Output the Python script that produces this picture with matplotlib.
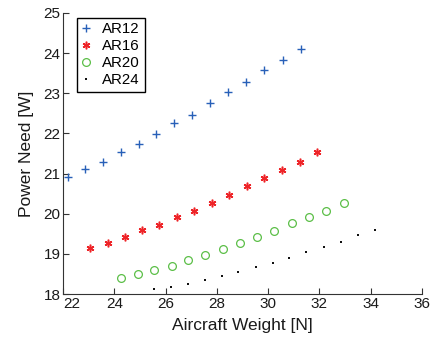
import matplotlib
matplotlib.use("Agg")
import matplotlib.pyplot as plt

plt.rcParams['font.family'] = ['Liberation Sans', 'DejaVu Sans']

# aircraft weight [N] and power need [W] for each aspect ratio
w_ar12 = [22.17, 22.87, 23.55, 24.25, 24.95, 25.63, 26.34, 27.03, 27.73, 28.45, 29.15, 29.85, 30.57, 31.27]
p_ar12 = [20.91, 21.12, 21.29, 21.54, 21.74, 21.98, 22.25, 22.47, 22.76, 23.02, 23.28, 23.57, 23.84, 24.11]

w_ar16 = [23.05, 23.73, 24.40, 25.07, 25.75, 26.43, 27.11, 27.80, 28.47, 29.16, 29.85, 30.54, 31.23, 31.92]
p_ar16 = [19.14, 19.27, 19.42, 19.59, 19.73, 19.91, 20.08, 20.28, 20.46, 20.68, 20.89, 21.09, 21.29, 21.53]

w_ar20 = [24.25, 24.92, 25.55, 26.23, 26.88, 27.55, 28.23, 28.90, 29.58, 30.24, 30.92, 31.60, 32.27, 32.95]
p_ar20 = [18.41, 18.50, 18.59, 18.70, 18.85, 18.97, 19.12, 19.27, 19.42, 19.58, 19.76, 19.91, 20.07, 20.26]

w_ar24 = [25.55, 26.21, 26.87, 27.54, 28.19, 28.84, 29.52, 30.18, 30.83, 31.49, 32.17, 32.84, 33.50, 34.18]
p_ar24 = [18.12, 18.18, 18.26, 18.35, 18.46, 18.56, 18.68, 18.78, 18.89, 19.05, 19.18, 19.30, 19.46, 19.60]

x_ticks = [22, 24, 26, 28, 30, 32, 34, 36]
y_ticks = [18, 19, 20, 21, 22, 23, 24, 25]

fig = plt.figure(figsize=(4.3, 3.4), dpi=100)
ax = fig.add_axes([0.147, 0.135, 0.834, 0.827])

ax.plot(w_ar12, p_ar12, linestyle='none', marker='+', markersize=5.2, markeredgewidth=1.0,
        color='#2860b8', label='AR12')
# six-armed asterisk
ax.plot(w_ar16, p_ar16, linestyle='none', marker=(6, 2, 0), markersize=5.5, markeredgewidth=1.1,
        color='#ee2428', label='AR16')
ax.plot(w_ar20, p_ar20, linestyle='none', marker='o', markersize=5.6, markeredgewidth=0.9,
        markerfacecolor='none', markeredgecolor='#5cbf48', label='AR20')
ax.plot(w_ar24, p_ar24, linestyle='none', marker='s', markersize=1.8, markeredgewidth=0,
        color='#111111', label='AR24')

ax.set_xlim(22, 36)
ax.set_ylim(18, 25)
ax.set_xticks(x_ticks)
ax.set_yticks(y_ticks)
ax.get_xticklabels()[0].set_horizontalalignment('left')

for side in ('top', 'right'):
    ax.spines[side].set_visible(False)
for side in ('left', 'bottom'):
    ax.spines[side].set_color('#333333')
    ax.spines[side].set_linewidth(0.8)
ax.tick_params(direction='in', length=4, width=0.8, color='#333333',
               labelsize=11, labelcolor='#1a1a1a', pad=2)

ax.set_xlabel('Aircraft Weight [N]', fontsize=12.5, color='#1a1a1a', labelpad=5)
ax.set_ylabel('Power Need [W]', fontsize=12.5, color='#1a1a1a', labelpad=7)

leg = ax.legend(loc='upper left', bbox_to_anchor=(0.038, 0.982), borderaxespad=0,
                fontsize=10.8, frameon=True, fancybox=False, borderpad=0.3,
                labelspacing=0.2, handlelength=0.6, handletextpad=0.8)
leg.get_frame().set_edgecolor('black')
leg.get_frame().set_linewidth(1.0)
leg.get_frame().set_alpha(1)

fig.savefig('out.png', dpi=100)
